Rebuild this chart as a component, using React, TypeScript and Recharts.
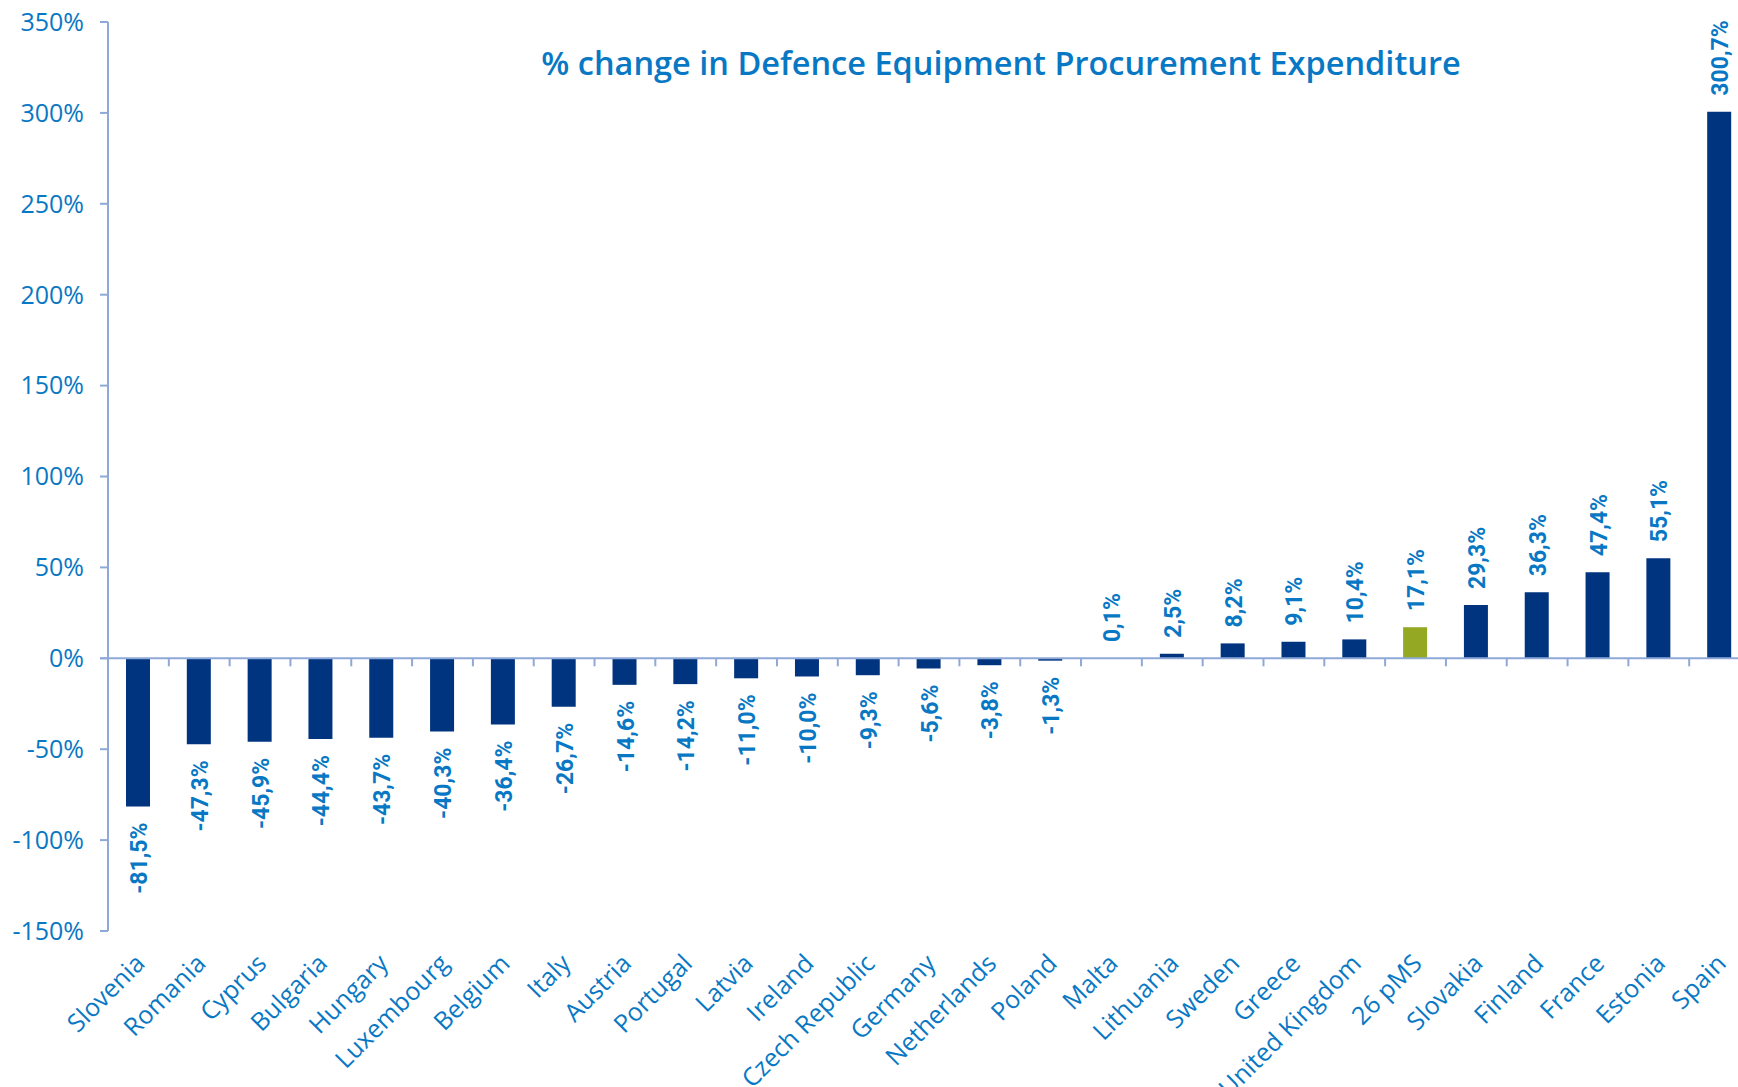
import React from 'react';
import { BarChart, Bar, XAxis, YAxis, Cell, LabelList, ReferenceLine } from 'recharts';

const countries = [
  'Slovenia', 'Romania', 'Cyprus', 'Bulgaria', 'Hungary', 'Luxembourg', 'Belgium', 'Italy',
  'Austria', 'Portugal', 'Latvia', 'Ireland', 'Czech Republic', 'Germany', 'Netherlands', 'Poland',
  'Malta', 'Lithuania', 'Sweden', 'Greece', 'United Kingdom', '26 pMS', 'Slovakia', 'Finland',
  'France', 'Estonia', 'Spain',
];
const changes = [
  -81.5, -47.3, -45.9, -44.4, -43.7, -40.3, -36.4, -26.7,
  -14.6, -14.2, -11.0, -10.0, -9.3, -5.6, -3.8, -1.3,
  0.1, 2.5, 8.2, 9.1, 10.4, 17.1, 29.3, 36.3,
  47.4, 55.1, 300.7,
];
const highlighted = ['26 pMS'];
const yTicks = [-150, -100, -50, 0, 50, 100, 150, 200, 250, 300, 350];
const title = '% change in Defence Equipment Procurement Expenditure';

const BAR = '#00347F';
const GREEN = '#94A823';
const TEXT = '#0878C4';
const AXIS = '#8EA9D8';

const data = countries.map((name, i) => ({ name, value: changes[i] }));

const fmt = (v: number) => v.toFixed(1).replace('.', ',') + '%';

const XTick = (props: any) => {
  const { x, y, payload } = props;
  const ax = x + 8;
  const ay = y + 34;
  return (
    <text
      x={ax}
      y={ay}
      transform={`rotate(-45, ${ax}, ${ay})`}
      textAnchor="end"
      fill={TEXT}
      fontSize={25}
      fontFamily="'Open Sans'"
    >
      {payload.value}
    </text>
  );
};

const ValueLabel = (props: any) => {
  const { x, y, width, height, value } = props;
  const cx = x + width / 2 + 9;
  const top = Math.min(y, y + height);
  const bottom = Math.max(y, y + height);
  const pos = value >= 0;
  const ly = pos ? top - 16 : bottom + 16;
  return (
    <text
      x={cx}
      y={ly}
      transform={`rotate(-90, ${cx}, ${ly})`}
      textAnchor={pos ? 'start' : 'end'}
      fill={TEXT}
      fontSize={23}
      fontWeight="bold"
      fontFamily="Roboto"
    >
      {fmt(value)}
    </text>
  );
};

const ZeroAxis = (props: any) => {
  const { x1, y1, x2 } = props;
  const n = data.length;
  const step = (x2 - x1) / n;
  const ticks = [];
  for (let i = 1; i <= n; i++) {
    const tx = x1 + i * step;
    ticks.push(<line key={i} x1={tx} y1={y1} x2={tx} y2={y1 + 8} stroke={AXIS} strokeWidth={2} />);
  }
  return (
    <g>
      <line x1={x1 - 8} y1={y1} x2={x2} y2={y1} stroke={AXIS} strokeWidth={2} />
      {ticks}
    </g>
  );
};

export default function App() {
  return (
    <div style={{ position: 'absolute', left: 0, top: 0, width: 1738, height: 1087, overflow: 'hidden', background: '#fff' }}>
      <div
        style={{
          position: 'absolute',
          left: 501,
          top: 47,
          width: 1000,
          textAlign: 'center',
          fontFamily: "'Open Sans'",
          fontSize: 32.5,
          lineHeight: '32px',
          fontWeight: 600,
          color: TEXT,
          whiteSpace: 'nowrap',
        }}
      >
        {title}
      </div>
      <BarChart width={1760} height={1087} data={data} margin={{ top: 22, right: 10, left: 0, bottom: 0 }}>
        <XAxis
          dataKey="name"
          height={156}
          axisLine={false}
          tickLine={false}
          tickSize={0}
          tickMargin={0}
          interval={0}
          tick={<XTick />}
        />
        <YAxis
          width={108}
          domain={[-150, 350]}
          ticks={yTicks}
          type="number"
          allowDataOverflow
          stroke={AXIS}
          axisLine={{ stroke: AXIS, strokeWidth: 2 }}
          tickLine={{ stroke: AXIS, strokeWidth: 2 }}
          tickSize={8}
          tickMargin={16}
          tickFormatter={(v: number) => `${v}%`}
          tick={{ fill: TEXT, fontSize: 25, fontFamily: "'Open Sans'" }}
        />
        <Bar dataKey="value" barSize={24} isAnimationActive={false}>
          {data.map((d) => (
            <Cell key={d.name} fill={highlighted.includes(d.name) ? GREEN : BAR} />
          ))}
          <LabelList dataKey="value" content={<ValueLabel />} />
        </Bar>
        <ReferenceLine y={0} shape={<ZeroAxis />} />
      </BarChart>
    </div>
  );
}
